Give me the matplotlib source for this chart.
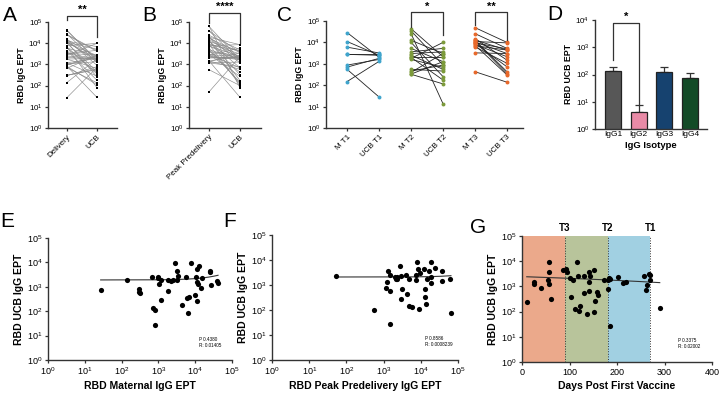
import numpy as np
import matplotlib
matplotlib.use("Agg")
import matplotlib.pyplot as plt
from matplotlib.ticker import LogLocator, LogFormatterMathtext, NullLocator

plt.rcParams['font.family'] = ['Liberation Sans', 'DejaVu Sans']
plt.rcParams['mathtext.fontset'] = 'custom'
plt.rcParams['mathtext.rm'] = 'Liberation Sans'
plt.rcParams['mathtext.it'] = 'Liberation Sans'
plt.rcParams['mathtext.bf'] = 'Liberation Sans:bold'

# E / A: maternal at delivery vs cord blood (UCB)
maternal = [27, 140, 295, 300, 310, 660, 710, 810, 830, 950, 950, 1050, 1200, 1800,
            1780, 1170, 2200, 2500, 2750, 3200, 3400, 3200, 5800, 7600, 11200, 12600,
            10200, 11500, 12000, 15100, 6000, 6600, 10000, 4500, 6500, 11500, 14800,
            24500, 25700, 27500, 39000, 41700]
ucb_e = [720, 1820, 780, 620, 560, 2630, 135, 110, 28, 2630, 2240, 1350, 1860, 1860,
         650, 280, 1700, 1860, 9800, 4600, 2700, 1860, 2630, 9800, 5200, 6900,
         2630, 1600, 1350, 2200, 360, 400, 460, 180, 81, 257, 910,
         4100, 4500, 1230, 1700, 1450]

# F / B: peak predelivery vs UCB
peak = [51, 560, 1450, 1200, 1320, 1450, 1450, 1170, 2000, 2140, 2290, 2340, 2690, 2880,
        3090, 2950, 3980, 4170, 4680, 4900, 5890, 7410, 7760, 7410, 8510, 8710, 9330,
        12000, 12600, 12900, 13500, 15100, 17000, 18600, 19100, 19100, 23400, 38000,
        38000, 61700, 64600]
ucb_f = [2340, 100, 28, 1290, 3630, 2510, 590, 780, 2140, 1780, 2040, 1700, 5890, 2340,
         680, 270, 2570, 440, 145, 1780, 130, 1550, 8510, 2450, 4370, 107, 3090,
         4370, 680, 320, 174, 1700, 3630, 1170, 2040, 8510, 4900, 3630,
         1480, 1700, 78]

# G: days post first vaccine vs UCB
days = [10, 26, 26, 40, 55, 56, 56, 57, 62, 86, 92, 94, 102, 103, 107, 111, 116, 117,
        121, 122, 130, 130, 137, 140, 140, 142, 144, 151, 151, 154, 158, 161, 173, 180,
        180, 183, 185, 186, 202, 213, 219, 257, 261, 263, 267, 270, 269, 290]
ucb_g = [245, 1230, 1450, 830, 1780, 1230, 3800, 8900, 320, 4370, 5000, 3800, 2090, 370,
         1820, 129, 8900, 2570, 107, 166, 2570, 560, 78, 1510, 3800, 680, 2630, 93,
         4370, 270, 620, 457, 1740, 780, 1780, 2190, 1950, 27, 2450, 1350, 1510,
         2570, 720, 1170, 3160, 2820, 1740, 145]

# C: trimester pairs (maternal, UCB)
t1_m = [28800, 11000, 6000, 2750, 2750, 870, 700, 550, 148]
t1_u = [2000, 2500, 3200, 2750, 2500, 1600, 1800, 28, 1300]
t2_m = [43600, 34700, 25700, 12600, 10000, 5250, 3630, 3020, 2500, 2140, 2000, 1780,
        1600, 550, 457, 400, 324, 330]
t2_u = [2140, 870, 13.5, 3020, 251, 1260, 5250, 3630, 550, 2140, 174, 10000,
        680, 457, 870, 3020, 115, 1260]
t3_m = [49000, 25700, 15100, 13000, 12600, 11000, 10500, 9500, 8900, 8000, 7400, 7000,
        6200, 3240, 427, 11500]
t3_u = [10000, 5250, 1480, 4370, 427, 9500, 3020, 5000, 720, 2140, 302, 4370,
        1050, 3020, 138, 350]
c_labels = ['M T1', 'UCB T1', 'M T2', 'UCB T2', 'M T3', 'UCB T3']
c_colors = ['#3fa4cc', '#7c9a3b', '#e8692b']

# D: isotypes
isotypes = ['IgG1', 'IgG2', 'IgG3', 'IgG4']
iso_mean = [131, 4.2, 125, 74]
iso_err = [55, 3.2, 61, 38]
iso_colors = ['#575757', '#e88aa6', '#16426f', '#134b27']

fig = plt.figure(figsize=(7.2, 3.97), dpi=100)


def add_ax(x0, x1, ytop, ybot):
    return fig.add_axes([x0 / 720, 1 - ybot / 397, (x1 - x0) / 720, (ybot - ytop) / 397])


def style(ax, logy=True, ylim=(1, 1e5)):
    for s in ['top', 'right']:
        ax.spines[s].set_visible(False)
    for s in ['left', 'bottom']:
        ax.spines[s].set_linewidth(1.0)
        ax.spines[s].set_color('#333333')
    if logy:
        ax.set_yscale('log')
        ax.set_ylim(*ylim)
        ax.yaxis.set_major_locator(LogLocator(base=10, numticks=10))
        ax.yaxis.set_major_formatter(LogFormatterMathtext())
        ax.yaxis.set_minor_locator(NullLocator())
    ax.tick_params(width=0.9, length=2.5, labelsize=5.8, pad=1.5, color='#333333')


def bracket(ax, x0, x1, ytop, yl, yr, label, ytext):
    ax.plot([x0, x0, x1, x1], [yl, ytop, ytop, yr], color='#333333', lw=0.9, clip_on=False)
    ax.text((x0 + x1) / 2, ytext, label, ha='center', va='center', fontsize=8,
            fontweight='bold', clip_on=False)


def paired(ax, left, right, names):
    for a, b in zip(left, right):
        ax.plot([0, 1], [a, b], color='#8a8a8a', lw=0.45, zorder=1)
    ax.scatter([0] * len(left), left, marker='s', s=3.5, c='k', zorder=2, linewidths=0)
    ax.scatter([1] * len(right), right, marker='s', s=3.5, c='k', zorder=2, linewidths=0)
    ax.set_xticks([0, 1])
    ax.set_xticklabels(names, rotation=45, ha='right', rotation_mode='anchor', fontsize=5.8)
    ax.set_ylabel('RBD IgG EPT', fontsize=6.3, fontweight='bold', labelpad=2)


# A
axA = add_ax(48, 117, 22, 128)
style(axA)
paired(axA, maternal, ucb_e, ['Delivery', 'UCB'])
axA.set_xlim(-0.63, 1.67)
bracket(axA, 0, 1, 10 ** 5.28, 10 ** 5.09, 10 ** 4.3, '**', 10 ** 5.55)

# B
axB = add_ax(189, 261, 22, 128)
style(axB)
paired(axB, peak, ucb_f, ['Peak Predelivery', 'UCB'])
axB.set_xlim(-0.65, 1.68)
bracket(axB, 0, 1, 10 ** 5.43, 10 ** 4.94, 10 ** 4.0, '****', 10 ** 5.7)

# C
axC = add_ax(326, 523, 21, 128)
style(axC)
for i, (m, u) in enumerate([(t1_m, t1_u), (t2_m, t2_u), (t3_m, t3_u)]):
    x0 = 2 * i
    for a, b in zip(m, u):
        axC.plot([x0, x0 + 1], [a, b], color='#222222', lw=0.6, zorder=1)
    axC.scatter([x0] * len(m), m, s=8, c=c_colors[i], zorder=2, linewidths=0)
    axC.scatter([x0 + 1] * len(u), u, s=8, c=c_colors[i], zorder=2, linewidths=0)
axC.set_xticks(range(6))
axC.set_xticklabels(c_labels, rotation=45, ha='right', rotation_mode='anchor', fontsize=5.8)
axC.set_xlim(-0.66, 5.5)
axC.set_ylabel('RBD IgG EPT', fontsize=6.3, fontweight='bold', labelpad=2)
bracket(axC, 2, 3, 10 ** 5.42, 10 ** 4.7, 10 ** 4.33, '*', 10 ** 5.68)
bracket(axC, 4, 5, 10 ** 5.42, 10 ** 4.8, 10 ** 4.1, '**', 10 ** 5.68)

# D
axD = add_ax(595, 707, 20, 129)
style(axD, ylim=(1, 1e4))
xpos = np.arange(len(isotypes))
axD.bar(xpos, iso_mean, width=0.62, color=iso_colors, edgecolor='#222222', linewidth=0.9,
        zorder=2)
axD.errorbar(xpos, iso_mean, yerr=[[0] * 4, iso_err], fmt='none', ecolor='#333333',
             elinewidth=0.9, capsize=3, capthick=0.9, zorder=1)
axD.set_xticks(xpos)
axD.set_xticklabels(isotypes, fontsize=6)
axD.tick_params(axis='x', length=0)
axD.set_xlim(-0.7, 3.66)
axD.set_ylabel('RBD UCB EPT', fontsize=6.3, fontweight='bold', labelpad=2)
axD.set_xlabel('IgG Isotype', fontsize=6.8, fontweight='bold', labelpad=2)
bracket(axD, 0, 1, 10 ** 3.88, 10 ** 2.53, 10 ** 0.89, '*', 10 ** 4.12)


def scatter_panel(ax, x, y, xlabel, ptxt, logx=True):
    style(ax)
    ax.scatter(x, y, s=14, c='k', linewidths=0, zorder=3)
    coef = np.polyfit(x, y, 1)
    xs = np.linspace(min(x), max(x), 200)
    ax.plot(xs, np.polyval(coef, xs), color='#333333', lw=0.8, zorder=2)
    if logx:
        ax.set_xscale('log')
        ax.set_xlim(1, 1e5)
        ax.xaxis.set_major_locator(LogLocator(base=10, numticks=10))
        ax.xaxis.set_major_formatter(LogFormatterMathtext())
        ax.xaxis.set_minor_locator(NullLocator())
    ax.set_ylabel('RBD UCB IgG EPT', fontsize=7.5, fontweight='bold', labelpad=2)
    ax.set_xlabel(xlabel, fontsize=7.5, fontweight='bold', labelpad=3)
    ax.tick_params(labelsize=6.5)
    ax.text(0.82, 0.1, ptxt, transform=ax.transAxes, fontsize=3.3, linespacing=1.3,
            va='bottom')


# E
axE = add_ax(48, 232, 238, 360)
scatter_panel(axE, maternal, ucb_e, 'RBD Maternal IgG EPT', 'P 0.4380\nR: 0.01405')

# F
axF = add_ax(272, 458, 235, 360)
scatter_panel(axF, peak, ucb_f, 'RBD Peak Predelivery IgG EPT', 'P 0.8586\nR: 0.0008239')

# G
axG = add_ax(522, 712, 236, 362)
axG.axvspan(0, 90, color='#eba98b', zorder=0, lw=0)
axG.axvspan(90, 180, color='#b8c49b', zorder=0, lw=0)
axG.axvspan(180, 270, color='#a1d0e2', zorder=0, lw=0)
for xv in [90, 180, 270]:
    axG.axvline(xv, color='#333333', lw=0.7, ls=':', zorder=1)
scatter_panel(axG, days, ucb_g, 'Days Post First Vaccine', 'P 0.3375\nR: 0.02002', logx=False)
axG.set_xlim(0, 400)
axG.set_xticks([0, 100, 200, 300, 400])
for xv, lab in zip([90, 180, 270], ['T3', 'T2', 'T1']):
    axG.text(xv, 10 ** 5.3, lab, ha='center', va='center', fontsize=7, fontweight='bold')

# panel letters
for lab, x, y in [('A', 3, 6), ('B', 142, 6), ('C', 277, 6), ('D', 547, 5),
                  ('E', 0, 212), ('F', 223, 212), ('G', 470, 218)]:
    fig.text(x / 720, 1 - y / 397, lab, fontsize=15, ha='left', va='top')

fig.savefig('out.png', dpi=100)
